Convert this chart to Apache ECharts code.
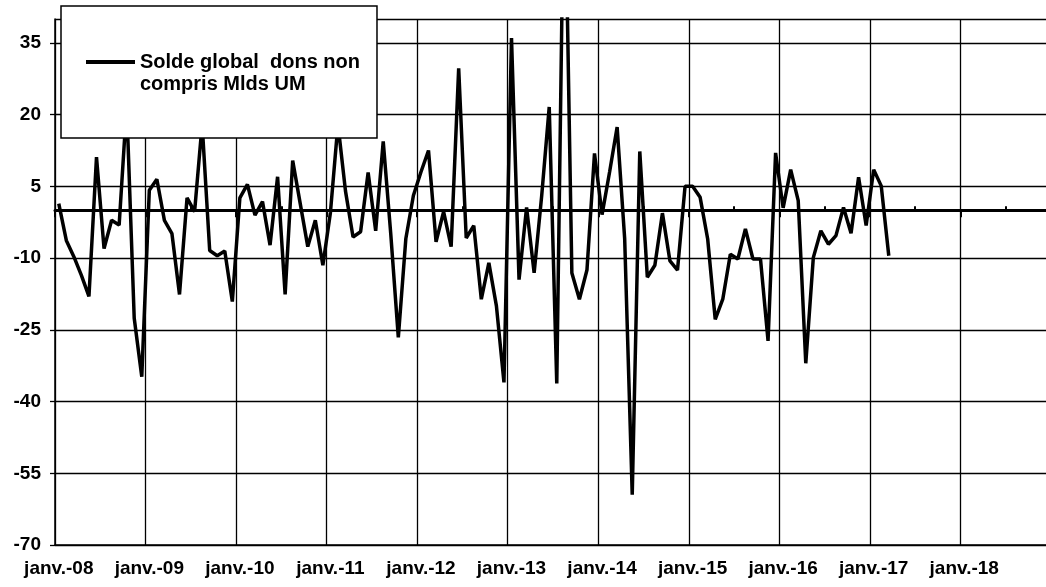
<!DOCTYPE html>
<html>
<head>
<meta charset="utf-8">
<title>Solde global dons non compris</title>
<script src="https://cdn.jsdelivr.net/npm/echarts@6/dist/echarts.min.js"></script>
<style>
  html, body { margin: 0; padding: 0; background: #fff; }
  #chart { width: 1046px; height: 587px; }
</style>
</head>
<body>
<div id="chart"></div>
<script>
// mois de l'axe : seule l'étiquette de janvier est affichée
const monthNames = ['janv.', 'févr.', 'mars', 'avr.', 'mai', 'juin', 'juil.', 'août', 'sept.', 'oct.', 'nov.', 'déc.']
const years = ['08', '09', '10', '11', '12', '13', '14', '15', '16', '17', '18']

// graduations de l'axe vertical
const yTicks = [-70, -55, -40, -25, -10, 5, 20, 35]
const yMax = 40

const seriesName = 'Solde global  dons non compris Mlds UM'

// Solde global dons non compris, Mlds UM (janv.-08 -> mars-17)
const solde = [
  // 2008
  1.4, -6.3, -9.7, -13.6, -18.0, 11.1, -8.0, -2.1, -3.1, 22, -22.6, -34.8,
  // 2009
  4.2, 6.5, -2.1, -4.9, -17.6, 2.6, -0.3, 18, -8.4, -9.5, -8.5, -19.1,
  // 2010
  2.6, 5.4, -1.0, 1.8, -7.3, 7.0, -17.6, 10.4, 1.4, -7.6, -2.1, -11.5,
  // 2011
  -0.5, 18, 4, -5.6, -4.5, 7.9, -4.3, 14.4, -5, -26.6, -5.9, 3.1,
  // 2012
  8, 12.5, -6.6, -0.3, -7.6, 29.7, -5.8, -3.2, -18.6, -11.0, -20.0, -36.0,
  // 2013
  36.0, -14.5, 0.6, -13.1, 3, 21.6, -36.2, 78, -13.1, -18.6, -12.5, 11.9,
  // 2014
  -0.9, 8, 17.4, -6, -59.5, 12.3, -14.0, -11.5, -0.6, -10.6, -12.5, 5.0,
  // 2015
  5.0, 2.7, -6.0, -22.8, -18.6, -9.2, -10.2, -3.9, -10.2, -10.2, -27.3, 12.0,
  // 2016
  0.5, 8.5, 2.0, -32, -9.9, -4.3, -7.1, -5.3, 0.6, -4.8, 6.9, -3.2,
  // 2017
  8.5, 5.1, -9.5
]

const categories = years.flatMap(y => monthNames.map(m => m + '-' + y))

const font = '"Liberation Sans", Arial, sans-serif'
const labelStyle = {
  color: '#000',
  fontSize: 19,
  fontWeight: 'bold',
  fontFamily: font
}

const chart = echarts.init(document.getElementById('chart'), null, { renderer: 'canvas' })

chart.setOption({
  animation: false,
  backgroundColor: '#fff',
  grid: {
    left: 55,
    top: 19,
    right: -5,
    bottom: 42,
    containLabel: false,
    outerBoundsMode: 'none'
  },
  legend: {
    left: 61,
    top: 6,
    orient: 'vertical',
    padding: [23, 17, 43, 25],
    backgroundColor: '#fff',
    borderColor: '#000',
    borderWidth: 1.5,
    borderRadius: 0,
    icon: 'rect',
    itemWidth: 49,
    itemHeight: 4,
    selectedMode: false,
    // ligne vide en tête : le trait de légende reste face à la première ligne
    formatter: () => '\nSolde global  dons non\ncompris Mlds UM',
    textStyle: Object.assign({}, labelStyle, {
      fontSize: 20,
      lineHeight: 22
    }),
    data: [seriesName]
  },
  xAxis: [{
    // axe du bas : étiquettes et quadrillage vertical
    type: 'category',
    data: categories,
    boundaryGap: true,
    position: 'bottom',
    axisLine: { onZero: false, lineStyle: { color: '#000', width: 1.5 } },
    axisTick: { show: false },
    axisLabel: Object.assign({}, labelStyle, { interval: 11, margin: 14 }),
    splitLine: { show: true, interval: 11, lineStyle: { color: '#000', width: 1.3 } }
  }, {
    // ligne du zéro avec graduations annuelles vers le bas
    type: 'category',
    data: categories,
    boundaryGap: true,
    position: 'top',
    axisLine: { onZero: true, onZeroAxisIndex: 0, lineStyle: { color: '#000', width: 3 } },
    axisTick: { show: true, inside: true, length: 7, interval: 11, lineStyle: { color: '#000', width: 2 } },
    axisLabel: { show: false },
    splitLine: { show: false }
  }, {
    // petites graduations semestrielles vers le haut
    type: 'category',
    data: categories,
    boundaryGap: true,
    position: 'bottom',
    axisLine: { show: true, onZero: true, onZeroAxisIndex: 0, lineStyle: { color: 'rgba(0,0,0,0)', width: 0 } },
    axisTick: {
      show: true,
      inside: true,
      length: 4,
      interval: (i) => i % 12 === 6,
      lineStyle: { color: '#000', width: 2 }
    },
    axisLabel: { show: false },
    splitLine: { show: false }
  }],
  yAxis: {
    type: 'value',
    min: yTicks[0],
    max: yMax,
    interval: yTicks[1] - yTicks[0],
    axisLine: { show: true, lineStyle: { color: '#000', width: 1.5 } },
    axisTick: { show: true, length: 5, lineStyle: { color: '#000', width: 1.3 } },
    axisLabel: Object.assign({}, labelStyle, { margin: 14, showMaxLabel: false }),
    splitLine: { show: true, lineStyle: { color: '#000', width: 1.3 } }
  },
  series: [{
    name: seriesName,
    type: 'line',
    xAxisIndex: 0,
    yAxisIndex: 0,
    data: solde,
    showSymbol: false,
    symbol: 'none',
    clip: true,
    lineStyle: { color: '#000', width: 3.5 },
    itemStyle: { color: '#000' },
    z: 3
  }]
})
</script>
</body>
</html>
